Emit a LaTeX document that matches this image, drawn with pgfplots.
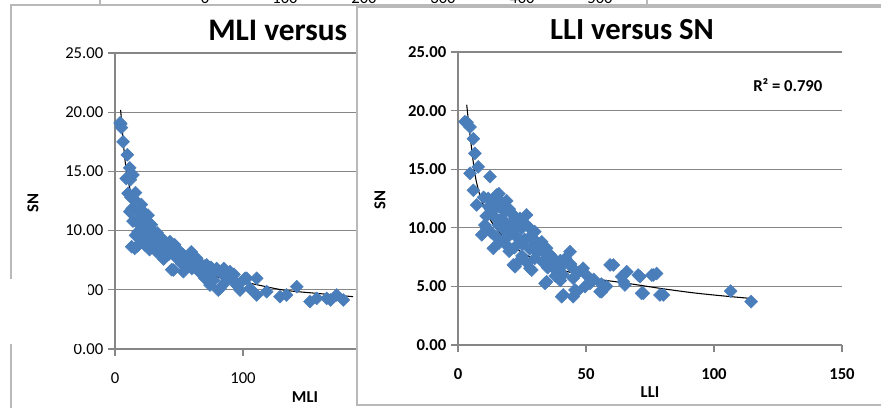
\documentclass[border=0pt]{standalone}
\usepackage{pgfplots}
\pgfplotsset{compat=1.18}
\usepackage{fontspec}
\setmainfont{Carlito}
\definecolor{xblue}{RGB}{74,126,187}
\definecolor{xgrid}{RGB}{134,134,134}
\definecolor{xframe}{RGB}{185,185,185}
\pgfplotsset{
  xlstyle/.style={
    scale only axis, anchor=south west, clip=false,
    ymin=0, ymax=25, ytick={0,5,...,25},
    axis x line*=bottom, axis y line*=left,
    axis line style={xgrid, line width=1pt},
    tick align=outside, major tick length=5.25pt,
    tick style={xgrid, line width=1pt},
    ymajorgrids, grid style={xgrid, line width=1pt},
    /pgf/number format/assume math mode=true,
    yticklabel style={/pgf/number format/.cd, fixed, fixed zerofill, precision=2},
  },
  xmarks/.style={only marks, mark=square*, mark size=3.4pt,
    mark options={rotate=45, fill=xblue, draw=xblue}},
  xtrend/.style={no marks, smooth, black, line width=0.8pt},
}
\begin{document}
\begin{tikzpicture}
\path[use as bounding box] (0,0) rectangle (660.75pt,305.25pt);
\begin{scope}
\clip (0,0) rectangle (660.75pt,305.25pt);
\begin{scope}[x=0.75pt,y=0.75pt]
  \fill[white] (0,0) rectangle (881,407);
  % fragments of a chart behind
  \draw[xframe, line width=1.2pt] (100,402) -- (100,410);
  \draw[xframe, line width=1.2pt] (647,403) -- (647,410);
  \foreach \xx/\lab in {205/0,285/100,364/200,443/300,522/400,600/500}
    \node[anchor=base, inner sep=0pt, font=\fontsize{12.5}{14}\selectfont] at (\xx,403) {\lab};
  % left chart frame
  \filldraw[fill=white, draw=xframe, line width=1.2pt] (11,-20) rectangle (950,402);
\end{scope}

\begin{axis}[xlstyle,
  at={(86.25pt,43.5pt)}, width=192pt, height=222pt,
  xmin=0, xmax=200, xtick={0,100,200},
  ticklabel style={font=\fontsize{12.5}{14}\selectfont, text=black},
  xticklabel style={yshift=-9pt},
]
\addplot[xmarks] coordinates {
(4,19.1)(5,18.7)(4.5,19.0)(6.3,17.5)(9.6,16.4)(11.5,15.3)(14,14.7)(8.8,14.4)(12,14.3)
(10.2,13.15)(12.5,12.8)(15.4,12.6)(17,12.4)(11.5,11.6)(14,11.9)(20.6,12.2)(18,11.5)(22,11.6)
(25.8,11.3)(18,10.75)(21,10.9)(28.4,10.5)(24,10.2)(18,9.9)(30,9.9)(26,9.7)(33.6,9.35)(30,9.2)
(20,9.3)(15.4,8.5)(13,8.64)(17.5,8.7)(23.2,8.8)(27,8.4)(32.6,8.2)(36,8.9)(40,8.7)(43,9.06)
(46.6,8.8)(50,8.3)(53.4,7.94)(48,7.7)(38,7.6)(42,8.0)(59.6,8.2)(57,7.5)(63.8,7.66)(66,7.3)
(71.6,7.1)(75,6.9)(79.4,6.8)(45.6,6.67)(44.3,6.7)(53.4,6.53)(60,6.8)(68,6.4)(85,6.8)(89.8,6.53)
(93,6.3)(74.2,5.4)(82,5.12)(80.7,4.98)(77,5.8)(70,6.0)(86,5.6)(95,5.4)(97.7,4.98)(102.9,5.97)
(101.6,5.97)(110.7,5.97)(105.5,5.12)(110.7,4.56)(118.5,4.84)(128.9,4.42)(134,4.56)(142,5.26)
(152.3,4.0)(157.6,4.28)(165.4,4.28)(168.5,4.14)(173.2,4.56)(178.4,4.14)
(16,13.2)(19,12.0)(23,11.0)(26,10.6)(29,10.0)(33,9.8)(35,9.4)(38,9.2)(41,8.5)(45,8.4)
(50,8.0)(55,7.7)(62,7.4)(70,7.0)(78,6.6)(83,6.4)(88,6.2)(92,5.9)(98,5.6)(65,6.6)(72,6.3)
(58,7.1)(52,7.2)(35,8.0)(31,8.6)(27,9.2)(22,10.0)(19,10.5)(14,10.8)(13,11.8)(16,9.6)(25,8.9)
};
\addplot[xtrend] coordinates {
(4.4,20.2)(6.25,17.8)(8.1,15.7)(11.5,13.6)(18,11.3)(28,9.6)(42,7.95)(58.6,6.95)(79.4,6.1)
(105.5,5.55)(131.5,4.98)(157.6,4.7)(186,4.42)
};
\end{axis}

\begin{scope}[x=0.75pt,y=0.75pt]
  \node[anchor=base west, inner sep=0pt, font=\bfseries\fontsize{23.5}{26}\selectfont] at (208,366) {MLI versus};
  \node[rotate=90, font=\bfseries\fontsize{12.5}{14}\selectfont] at (33,204) {SN};
  \node[font=\bfseries\fontsize{12.5}{14}\selectfont] at (305,10) {MLI};
  % overlapping white patch
  \fill[white] (-5,63) rectangle (87.5,128);
  % right chart frame
  \filldraw[fill=white, draw=xframe, line width=1.2pt] (357,2) rectangle (950,400);
\end{scope}

\begin{axis}[xlstyle,
  at={(343.5pt,46.5pt)}, width=288pt, height=219.75pt,
  xmin=0, xmax=150, xtick={0,50,100,150},
  ticklabel style={font=\bfseries\fontsize{12.5}{14}\selectfont, text=black},
  xticklabel style={yshift=-9pt},
]
\addplot[xmarks] coordinates {
(2.7,19.05)(3.5,19.0)(4.7,18.6)(6,17.6)(6.6,16.35)(7.9,15.2)(4.7,14.65)(12.5,14.36)(6,13.2)
(7.3,11.95)(11.8,12.5)(15.1,12.8)(17,12.2)(14,12.3)(16,11.8)(13.2,11.4)(18.4,11.4)(20,11.6)
(22,11.0)(26.8,11.1)(10.5,10.24)(15.7,10.24)(21,10.5)(24.2,10.8)(16.4,10.5)(24.9,9.96)(28.1,9.96)
(30,9.67)(11.2,9.96)(9.3,9.4)(13,9.6)(18,9.8)(20.3,9.4)(23,9.2)(26,9.0)(32.7,8.8)(30.7,8.8)
(13.8,8.25)(16,8.7)(19,8.5)(22,8.3)(25,8.6)(28,8.2)(34.6,8.25)(31,7.9)(36,7.7)(43.75,7.96)
(37.2,7.4)(40,7.2)(25,7.6)(30,7.4)(33,7.1)(21.6,6.83)(22.3,6.68)(28.1,6.55)(28.8,6.4)(35,6.6)
(38,6.4)(41.1,6.83)(44,6.9)(48.9,6.55)(41,6.0)(45,5.7)(38,5.9)(34.6,5.4)(34,5.26)(40,5.5)
(51.6,5.26)(49.6,4.98)(45.7,4.69)(46.4,4.55)(55.5,4.55)(56.1,4.55)(41.1,4.27)(40.5,4.12)(45,4.12)
(59.4,6.83)(60.7,6.83)(65.9,6.25)(63.9,5.83)(64.6,5.4)(65.2,5.12)(71.1,5.83)(70.4,5.97)(75.7,5.97)
(76.3,5.97)(77.6,6.1)(72.4,4.41)(71.7,4.41)(78.9,4.27)(80.2,4.27)(106.5,4.6)(114.5,3.7)
(12,11.8)(14,11.0)(17,10.8)(19,10.2)(21,9.8)(23,10.3)(26,10.4)(28,9.2)(30,8.5)(33,8.0)
(35,7.4)(38,7.0)(42,7.4)(45,6.5)(47,6.2)(50,6.0)(53,5.6)(56,5.2)(58,5.0)(20,8.0)(24,7.2)
(27,7.0)(18,9.0)(15,9.2)(11,11.0)(10,12.6)(16,12.9)(19,12.3)(21,11.2)
};
\addplot[xtrend] coordinates {
(3.4,20.5)(4.7,17.9)(6.6,14.6)(8.5,12.8)(10.5,11.6)(14,10.2)(19.5,8.8)(25,7.9)(32,7.1)(40,6.45)
(47.7,5.97)(55,5.6)(63.3,5.35)(71,5.1)(80,4.8)(92,4.45)(103,4.2)(114,3.98)
};
\end{axis}

\begin{scope}[x=0.75pt,y=0.75pt]
  \node[anchor=base, inner sep=0pt, font=\bfseries\fontsize{23}{26}\selectfont] at (632,367) {LLI versus SN};
  \node[anchor=base west, inner sep=0pt, font=\bfseries\fontsize{12.5}{14}\selectfont] at (753,315) {R² = 0.790};
  \node[rotate=90, font=\bfseries\fontsize{12.5}{14}\selectfont] at (380,207) {SN};
  \node[font=\bfseries\fontsize{12.5}{14}\selectfont] at (650,15) {LLI};
\end{scope}
\end{scope}
\end{tikzpicture}
\end{document}
